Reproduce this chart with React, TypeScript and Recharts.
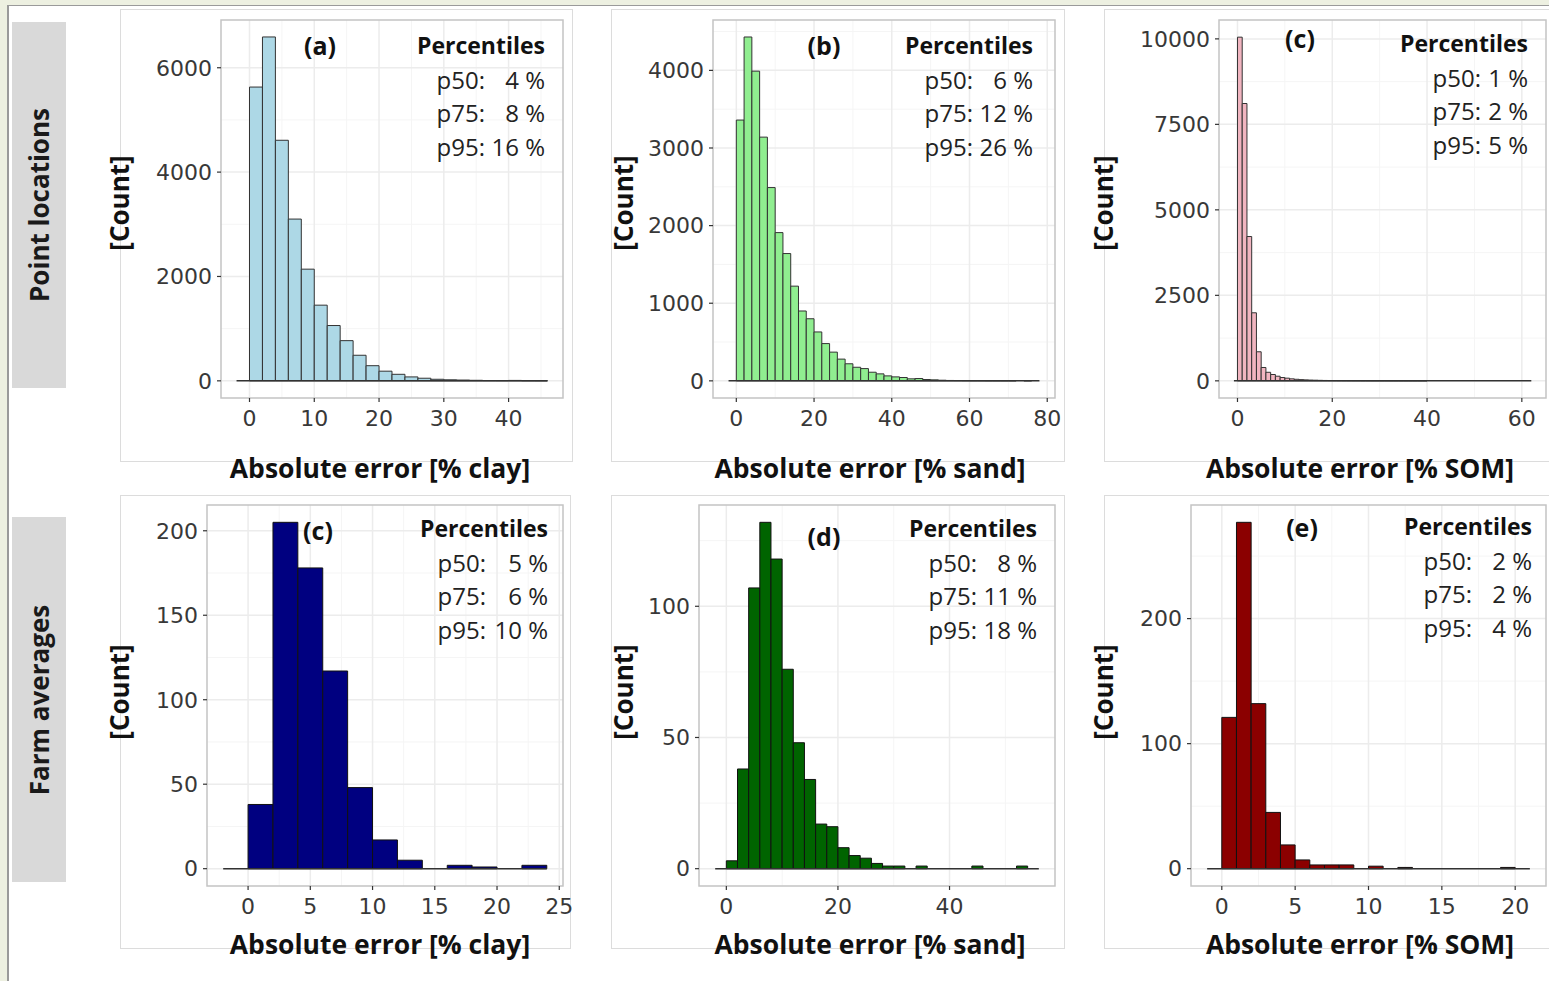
import React from 'react';
import { ComposedChart, Bar, XAxis, YAxis, CartesianGrid, ReferenceLine, ReferenceArea } from 'recharts';

// ---------------- DATA ----------------
// (a) point locations, clay : bins of 2 % (centres)
const clayPointBins = [1, 3, 5, 7, 9, 11, 13, 15, 17, 19, 21, 23, 25, 27, 29, 31, 33, 35, 37, 39, 41, 43, 45];
const clayPointCounts = [5630, 6590, 4610, 3100, 2140, 1450, 1060, 770, 490, 290, 185, 125, 75, 50, 30, 20, 15, 10, 6, 5, 8, 3, 2];

// (b) point locations, sand
const sandPointBins = [1, 3, 5, 7, 9, 11, 13, 15, 17, 19, 21, 23, 25, 27, 29, 31, 33, 35, 37, 39, 41, 43, 45, 47, 49, 51, 53, 55, 57, 59, 61, 63, 65, 67, 69, 71, 73, 75, 77];
const sandPointCounts = [3360, 4430, 3990, 3140, 2490, 1910, 1640, 1220, 900, 800, 630, 480, 370, 280, 220, 175, 158, 111, 90, 64, 51, 43, 26, 30, 17, 13, 8, 5, 4, 3, 2, 2, 1, 1, 1, 1, 0, 1, 0];

// (c) point locations, SOM : bins of 1 %
const somPointBins = [0.5, 1.5, 2.5, 3.5, 4.5, 5.5, 6.5, 7.5, 8.5, 9.5, 10.5, 11.5, 12.5, 13.5, 14.5, 15.5, 16.5, 17.5, 18.5, 19.5, 20.5, 21.5, 22.5, 23.5, 24.5, 25.5, 26.5, 27.5, 28.5, 29.5, 30.5, 31.5, 32.5, 33.5, 34.5, 35.5, 36.5, 37.5, 38.5, 39.5];
const somPointCounts = [10050, 8110, 4220, 1990, 850, 390, 250, 185, 135, 97, 78, 58, 45, 35, 28, 22, 18, 14, 11, 9, 8, 7, 6, 5, 4, 4, 3, 3, 2, 2, 2, 2, 1, 1, 1, 1, 1, 1, 1, 1];

// (c) farm averages, clay
const clayFarmBins = [1, 3, 5, 7, 9, 11, 13, 15, 17, 19, 21, 23];
const clayFarmCounts = [38, 205, 178, 117, 48, 17, 5, 0, 2, 1, 0, 2];

// (d) farm averages, sand
const sandFarmBins = [1, 3, 5, 7, 9, 11, 13, 15, 17, 19, 21, 23, 25, 27, 29, 31, 33, 35, 37, 39, 41, 43, 45, 47, 49, 51, 53];
const sandFarmCounts = [3, 38, 107, 132, 118, 76, 48, 34, 17, 16, 8, 5, 4, 2, 1, 1, 0, 1, 0, 0, 0, 0, 1, 0, 0, 0, 1];

// (e) farm averages, SOM
const somFarmBins = [0.5, 1.5, 2.5, 3.5, 4.5, 5.5, 6.5, 7.5, 8.5, 9.5, 10.5, 11.5, 12.5, 13.5, 14.5, 15.5, 16.5, 17.5, 18.5, 19.5];
const somFarmCounts = [121, 277, 132, 45, 19, 7, 3, 3, 3, 0, 2, 0, 1, 0, 0, 0, 0, 0, 0, 1];

// texts
const rowLabels = ['Point locations', 'Farm averages'];
const xTitles = ['Absolute error [% clay]', 'Absolute error [% sand]', 'Absolute error [% SOM]'];
const yTitle = '[Count]';
const pctHeader = 'Percentiles';
const pctNames = ['p50:', 'p75:', 'p95:'];
const pctClayPoint = ['4 %', '8 %', '16 %'];
const pctSandPoint = ['6 %', '12 %', '26 %'];
const pctSomPoint = ['1 %', '2 %', '5 %'];
const pctClayFarm = ['5 %', '6 %', '10 %'];
const pctSandFarm = ['8 %', '11 %', '18 %'];
const pctSomFarm = ['2 %', '2 %', '4 %'];

const W = 1549;
const H = 981;
const TEXT_FONT = "'Open Sans', 'Noto Sans', sans-serif";
const TICK_FONT = "'DejaVu Sans', sans-serif";

type PanelCfg = {
  bins: number[];
  counts: number[];
  binWidth: number;
  baseline: [number, number];
  xDomain: [number, number];
  yDomain: [number, number];
  xTicks: number[];
  yTicks: number[];
  xMinor: number[];
  yMinor: number[];
  fill: string;
  stroke: string;
  plot: { L: number; T: number; R: number; B: number };
  box: { L: number; T: number; R: number; B: number };
  xTitle: string;
  xTitlePos: [number, number];
  yTitlePos: [number, number];
  tag: string;
  tagPos: [number, number];
  pct: string[];
  pctValW: number;
  pctRight: number;
  pctTop: number;
};

const panels: PanelCfg[] = [
  {
    bins: clayPointBins, counts: clayPointCounts, binWidth: 2, baseline: [-2, 46],
    xDomain: [-4.4, 48.4], yDomain: [-329, 6915],
    xTicks: [0, 10, 20, 30, 40], yTicks: [0, 2000, 4000, 6000],
    xMinor: [5, 15, 25, 35, 45], yMinor: [1000, 3000, 5000],
    fill: '#add8e6', stroke: '#333333',
    plot: { L: 221, T: 20, R: 563, B: 398 }, box: { L: 120, T: 9, R: 573, B: 462 },
    xTitle: xTitles[0], xTitlePos: [380, 469], yTitlePos: [120, 203],
    tag: '(a)', tagPos: [320, 45],
    pct: pctClayPoint, pctValW: 60, pctRight: 545, pctTop: 46,
  },
  {
    bins: sandPointBins, counts: sandPointCounts, binWidth: 2, baseline: [-2, 78],
    xDomain: [-6, 82], yDomain: [-221, 4649],
    xTicks: [0, 20, 40, 60, 80], yTicks: [0, 1000, 2000, 3000, 4000],
    xMinor: [10, 30, 50, 70], yMinor: [500, 1500, 2500, 3500, 4500],
    fill: '#90ee90', stroke: '#333333',
    plot: { L: 713, T: 20, R: 1055, B: 398 }, box: { L: 611, T: 9, R: 1065, B: 462 },
    xTitle: xTitles[1], xTitlePos: [870, 469], yTitlePos: [624, 203],
    tag: '(b)', tagPos: [824, 45],
    pct: pctSandPoint, pctValW: 60, pctRight: 1033, pctTop: 46,
  },
  {
    bins: somPointBins, counts: somPointCounts, binWidth: 1, baseline: [-0.75, 62],
    xDomain: [-3.9, 65.1], yDomain: [-502, 10552],
    xTicks: [0, 20, 40, 60], yTicks: [0, 2500, 5000, 7500, 10000],
    xMinor: [10, 30, 50], yMinor: [1250, 3750, 6250, 8750],
    fill: '#f1b5c0', stroke: '#333333',
    plot: { L: 1219, T: 20, R: 1546, B: 398 }, box: { L: 1104, T: 9, R: 1560, B: 462 },
    xTitle: xTitles[2], xTitlePos: [1360, 469], yTitlePos: [1104, 203],
    tag: '(c)', tagPos: [1300, 38],
    pct: pctSomPoint, pctValW: 47, pctRight: 1528, pctTop: 44,
  },
  {
    bins: clayFarmBins, counts: clayFarmCounts, binWidth: 2, baseline: [-2, 24],
    xDomain: [-3.3, 25.3], yDomain: [-10.25, 215.25],
    xTicks: [0, 5, 10, 15, 20, 25], yTicks: [0, 50, 100, 150, 200],
    xMinor: [2.5, 7.5, 12.5, 17.5, 22.5], yMinor: [25, 75, 125, 175],
    fill: '#000080', stroke: '#111111',
    plot: { L: 207, T: 505, R: 563, B: 886 }, box: { L: 120, T: 495, R: 571, B: 949 },
    xTitle: xTitles[0], xTitlePos: [380, 945], yTitlePos: [120, 692],
    tag: '(c)', tagPos: [318, 530],
    pct: pctClayFarm, pctValW: 62, pctRight: 548, pctTop: 529,
  },
  {
    bins: sandFarmBins, counts: sandFarmCounts, binWidth: 2, baseline: [-2, 56],
    xDomain: [-4.9, 58.9], yDomain: [-6.6, 138.6],
    xTicks: [0, 20, 40], yTicks: [0, 50, 100],
    xMinor: [10, 30, 50], yMinor: [25, 75, 125],
    fill: '#006400', stroke: '#111111',
    plot: { L: 699, T: 505, R: 1055, B: 886 }, box: { L: 611, T: 495, R: 1065, B: 949 },
    xTitle: xTitles[1], xTitlePos: [870, 945], yTitlePos: [624, 692],
    tag: '(d)', tagPos: [824, 536],
    pct: pctSandFarm, pctValW: 60, pctRight: 1037, pctTop: 529,
  },
  {
    bins: somFarmBins, counts: somFarmCounts, binWidth: 1, baseline: [-1, 21],
    xDomain: [-2.1, 22.1], yDomain: [-13.85, 290.85],
    xTicks: [0, 5, 10, 15, 20], yTicks: [0, 100, 200],
    xMinor: [2.5, 7.5, 12.5, 17.5], yMinor: [50, 150, 250],
    fill: '#8b0000', stroke: '#111111',
    plot: { L: 1191, T: 505, R: 1546, B: 886 }, box: { L: 1104, T: 495, R: 1560, B: 949 },
    xTitle: xTitles[2], xTitlePos: [1360, 945], yTitlePos: [1104, 692],
    tag: '(e)', tagPos: [1302, 527],
    pct: pctSomFarm, pctValW: 60, pctRight: 1532, pctTop: 527,
  },
];

const PAD_L = 150;
const PAD_T = 20;
const PAD_R = 10;
const AXIS_H = 100;
const LINE_H = 33.5;

function Panel({ cfg }: { cfg: PanelCfg }) {
  const { plot } = cfg;
  const plotW = plot.R - plot.L;
  const plotH = plot.B - plot.T;
  const width = plotW + PAD_L + PAD_R;
  const height = plotH + PAD_T + AXIS_H;
  const data = cfg.bins.map((b, i) => ({ x: b, count: cfg.counts[i] }));
  const barPx = (plotW * cfg.binWidth) / (cfg.xDomain[1] - cfg.xDomain[0]) * 0.999;
  const xdx = cfg.xTitlePos[0] - (plot.L + plotW / 2);
  const xdy = cfg.xTitlePos[1] - (plot.B + AXIS_H / 2);
  const ydx = cfg.yTitlePos[0] - (plot.L - PAD_L / 2);
  const ydy = cfg.yTitlePos[1] - (plot.T + plotH / 2);
  const tickStyle = { fontSize: 22, fontFamily: TICK_FONT, fill: '#383838' };
  return (
    <>
      <div
        style={{
          position: 'absolute', left: cfg.box.L, top: cfg.box.T,
          width: cfg.box.R - cfg.box.L, height: cfg.box.B - cfg.box.T,
          border: '1px solid #dcdcdc', boxSizing: 'border-box', background: '#fff',
        }}
      />
      <div style={{ position: 'absolute', left: plot.L - PAD_L, top: plot.T - PAD_T }}>
        <ComposedChart
          width={width}
          height={height}
          data={data}
          margin={{ top: PAD_T, right: PAD_R, bottom: 0, left: 0 }}
          barCategoryGap={0}
          barGap={0}
        >
          <CartesianGrid verticalValues={cfg.xMinor} horizontalValues={cfg.yMinor} stroke="#f5f5f5" strokeWidth={1} />
          <CartesianGrid verticalValues={cfg.xTicks} horizontalValues={cfg.yTicks} stroke="#ececec" strokeWidth={1.5} />
          <XAxis
            dataKey="x"
            type="number"
            domain={cfg.xDomain}
            allowDataOverflow
            ticks={cfg.xTicks}
            interval={0}
            height={AXIS_H}
            axisLine={false}
            tickSize={4}
            tickMargin={8}
            tickLine={{ stroke: '#333', strokeWidth: 1.2 }}
            tick={tickStyle}
            label={{
              value: cfg.xTitle, position: 'center', dx: xdx, dy: xdy,
              fontSize: 26.5, fontWeight: 700, fontFamily: TEXT_FONT, fill: '#111',
            }}
          />
          <YAxis
            type="number"
            domain={cfg.yDomain}
            allowDataOverflow
            ticks={cfg.yTicks}
            interval={0}
            width={PAD_L}
            axisLine={false}
            tickSize={4}
            tickMargin={5}
            tickLine={{ stroke: '#333', strokeWidth: 1.2 }}
            tick={tickStyle}
            label={{
              value: yTitle, angle: -90, position: 'center', dx: ydx, dy: ydy,
              fontSize: 26, fontWeight: 700, fontFamily: TEXT_FONT, fill: '#111',
            }}
          />
          <ReferenceArea
            x1={cfg.xDomain[0]} x2={cfg.xDomain[1]} y1={cfg.yDomain[0]} y2={cfg.yDomain[1]}
            fill="none" stroke="#c4c4c4" strokeWidth={1.5} ifOverflow="visible"
          />
          <Bar
            dataKey="count"
            fill={cfg.fill}
            stroke={cfg.stroke}
            strokeWidth={1}
            barSize={barPx}
            isAnimationActive={false}
          />
          <ReferenceLine
            segment={[{ x: cfg.baseline[0], y: 0 }, { x: cfg.baseline[1], y: 0 }]}
            stroke="#333"
            strokeWidth={1.5}
            ifOverflow="visible"
          />
        </ComposedChart>
      </div>
      <div
        style={{
          position: 'absolute', left: cfg.tagPos[0], top: cfg.tagPos[1],
          transform: 'translate(-50%, -50%)', fontFamily: TEXT_FONT, fontWeight: 700,
          fontSize: 25, lineHeight: 1, color: '#111', whiteSpace: 'pre',
        }}
      >
        {cfg.tag}
      </div>
      <div
        style={{
          position: 'absolute', right: W - cfg.pctRight, top: cfg.pctTop - LINE_H / 2,
          fontFamily: TEXT_FONT, textAlign: 'right', whiteSpace: 'pre', color: '#222',
        }}
      >
        <div style={{ fontWeight: 700, fontSize: 23, lineHeight: `${LINE_H}px`, color: '#111' }}>{pctHeader}</div>
        {cfg.pct.map((v, i) => (
          <div key={i} style={{ fontSize: 24, lineHeight: `${LINE_H}px` }}>
            <span>{pctNames[i]}</span>
            <span style={{ display: 'inline-block', width: cfg.pctValW, textAlign: 'right' }}>{v}</span>
          </div>
        ))}
      </div>
    </>
  );
}

function Strip({ label, top, bottom }: { label: string; top: number; bottom: number }) {
  return (
    <div
      style={{
        position: 'absolute', left: 12, top, width: 54, height: bottom - top,
        background: '#d9d9d9', display: 'flex', alignItems: 'center', justifyContent: 'center',
      }}
    >
      <div
        style={{
          transform: 'rotate(-90deg)', whiteSpace: 'nowrap', fontFamily: TEXT_FONT,
          fontWeight: 700, fontSize: 26, color: '#1a1a1a',
        }}
      >
        {label}
      </div>
    </div>
  );
}

export default function App() {
  return (
    <div style={{ position: 'absolute', left: 0, top: 0, width: W, height: H, background: '#edf0e1', overflow: 'hidden' }}>
      <div
        style={{
          position: 'absolute', left: 7, top: 5, width: W, height: H,
          background: '#ffffff', borderLeft: '2px solid #9a9a9a', borderTop: '1px solid #9a9a9a',
        }}
      />
      <Strip label={rowLabels[0]} top={22} bottom={388} />
      <Strip label={rowLabels[1]} top={517} bottom={882} />
      {panels.map((p, i) => (
        <Panel key={i} cfg={p} />
      ))}
    </div>
  );
}
